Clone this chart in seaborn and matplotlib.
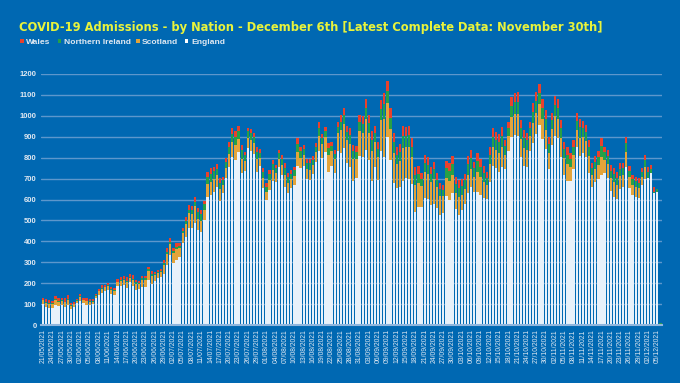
import matplotlib
matplotlib.use("Agg")
import matplotlib.pyplot as plt
from matplotlib.patches import Rectangle
import seaborn as sns
import pandas as pd
import numpy as np

# ---- data (daily admissions, 21/05/2021 .. 06/12/2021) ----
dates = pd.date_range("2021-05-21", periods=200, freq="D")
date_labels = [d.strftime("%d/%m/%Y") for d in dates]

england = [
    100, 88, 80, 80, 96, 90, 96, 85, 96, 75,
    85, 104, 116, 107, 96, 96, 99, 128, 143, 155,
    164, 167, 147, 143, 186, 186, 191, 179, 207, 186,
    167, 171, 183, 183, 215, 199, 212, 223, 228, 244,
    285, 335, 298, 311, 327, 394, 419, 462, 462, 489,
    454, 446, 502, 614, 622, 638, 662, 595, 630, 701,
    754, 805, 789, 829, 728, 736, 845, 834, 818, 733,
    760, 654, 598, 646, 690, 685, 754, 717, 662, 633,
    654, 670, 760, 749, 760, 697, 693, 720, 781, 834,
    797, 829, 733, 760, 728, 834, 821, 845, 776, 754,
    690, 701, 809, 802, 837, 789, 690, 754, 693, 834,
    805, 901, 789, 680, 654, 662, 690, 701, 697, 674,
    542, 563, 566, 609, 603, 574, 579, 558, 526, 537,
    617, 598, 630, 553, 526, 550, 579, 630, 658, 637,
    635, 622, 609, 603, 685, 760, 749, 733, 754, 744,
    834, 901, 908, 902, 802, 760, 757, 834, 869, 913,
    956, 890, 840, 744, 861, 902, 893, 805, 717, 690,
    690, 744, 850, 808, 821, 802, 728, 662, 685, 697,
    717, 728, 701, 642, 614, 603, 650, 662, 757, 654,
    622, 614, 609, 670, 697, 701, 725, 630, 637, 0,
]
scotland = [
    18, 20, 22, 20, 24, 23, 20, 24, 26, 16,
    15, 12, 19, 13, 18, 15, 13, 13, 18, 19,
    17, 19, 20, 20, 19, 25, 24, 27, 19, 30,
    31, 25, 33, 34, 42, 38, 28, 26, 26, 44,
    53, 51, 45, 52, 42, 46, 64, 73, 71, 79,
    54, 52, 47, 60, 64, 60, 54, 53, 38, 48,
    62, 68, 70, 62, 67, 47, 50, 51, 51, 60,
    40, 48, 40, 48, 50, 40, 42, 48, 56, 46,
    44, 44, 67, 51, 51, 48, 50, 44, 44, 69,
    70, 71, 82, 70, 65, 83, 110, 115, 106, 112,
    103, 93, 117, 118, 146, 129, 143, 119, 110, 145,
    182, 158, 148, 144, 118, 122, 157, 148, 153, 131,
    127, 118, 97, 122, 119, 108, 121, 100, 91, 79,
    85, 89, 89, 77, 84, 73, 72, 89, 90, 72,
    95, 85, 76, 65, 83, 90, 88, 90, 97, 71,
    69, 94, 100, 106, 89, 86, 80, 69, 96, 102,
    98, 95, 94, 79, 76, 97, 93, 88, 80, 80,
    67, 69, 81, 88, 78, 77, 79, 56, 62, 69,
    88, 63, 68, 62, 68, 65, 62, 56, 72, 53,
    48, 48, 46, 40, 60, 0, 0, 0, 0, 0,
]
northern_ireland = [
    3, 4, 4, 4, 4, 4, 4, 4, 5, 3,
    3, 2, 4, 2, 3, 3, 2, 2, 3, 4,
    3, 4, 4, 4, 3, 5, 4, 5, 4, 6,
    7, 6, 8, 8, 10, 9, 6, 6, 6, 10,
    12, 12, 10, 12, 10, 11, 15, 17, 16, 18,
    32, 31, 28, 36, 38, 36, 32, 32, 23, 29,
    37, 40, 42, 37, 40, 28, 30, 31, 31, 36,
    24, 28, 24, 28, 30, 24, 25, 29, 33, 28,
    26, 26, 40, 30, 30, 28, 30, 26, 26, 41,
    26, 26, 30, 26, 24, 30, 40, 42, 39, 41,
    38, 34, 43, 43, 54, 47, 52, 44, 40, 53,
    67, 58, 54, 53, 43, 45, 58, 54, 56, 48,
    47, 43, 36, 45, 44, 40, 44, 37, 33, 29,
    47, 50, 50, 43, 47, 41, 40, 50, 50, 40,
    53, 48, 42, 36, 46, 50, 49, 50, 54, 39,
    39, 53, 56, 59, 50, 48, 45, 39, 53, 57,
    55, 53, 53, 44, 42, 54, 52, 49, 45, 45,
    38, 39, 45, 49, 44, 43, 44, 31, 34, 38,
    49, 35, 38, 34, 38, 36, 34, 31, 40, 30,
    27, 27, 26, 22, 32, 30, 22, 6, 12, 10,
]
wales = [
    11, 12, 14, 12, 16, 15, 12, 15, 16, 10,
    9, 8, 12, 8, 11, 9, 9, 8, 11, 12,
    10, 12, 12, 12, 12, 15, 15, 17, 12, 19,
    10, 8, 10, 11, 12, 12, 9, 8, 8, 13,
    17, 16, 14, 16, 12, 14, 20, 22, 22, 24,
    21, 21, 18, 23, 25, 23, 22, 21, 15, 19,
    24, 27, 28, 24, 26, 18, 19, 20, 20, 24,
    16, 19, 15, 19, 19, 16, 16, 19, 22, 18,
    17, 17, 26, 20, 20, 19, 19, 18, 18, 28,
    20, 22, 24, 21, 20, 25, 33, 34, 32, 33,
    30, 28, 35, 36, 44, 39, 43, 35, 34, 44,
    54, 47, 45, 43, 35, 37, 47, 45, 46, 40,
    38, 36, 29, 37, 36, 32, 37, 30, 27, 24,
    37, 39, 39, 33, 36, 32, 31, 39, 39, 32,
    41, 37, 33, 29, 36, 40, 38, 40, 43, 31,
    30, 41, 44, 46, 39, 38, 35, 30, 42, 44,
    43, 41, 41, 34, 33, 42, 41, 38, 35, 35,
    29, 30, 36, 39, 34, 34, 34, 24, 27, 30,
    39, 27, 30, 27, 29, 29, 27, 24, 32, 23,
    20, 20, 20, 17, 24, 23, 18, 25, 0, 0,
]
y_ticks = list(range(0, 1201, 100))
series_names = ["Wales", "Northern Ireland", "Scotland", "England"]

# ---- styling ----
BG = "#0068b2"
COL_WALES = "#e8412c"
COL_NI = "#27a046"
COL_SCOT = "#e3a43a"
COL_ENG = "#e8f1fa"
TITLE_COL = "#e8f33c"
TEXT_COL = "#dfe8f2"
GRID_COL = "#5d97cc"

sns.set_theme(style="white")
plt.rcParams["font.family"] = ["Liberation Sans", "DejaVu Sans"]

df = pd.DataFrame({
    "date": date_labels,
    "England": england,
    "Scotland": scotland,
    "NI": northern_ireland,
    "Wales": wales,
})
df["lvl_eng"] = df["England"]
df["lvl_scot"] = df["lvl_eng"] + df["Scotland"]
df["lvl_ni"] = df["lvl_scot"] + df["NI"]
df["lvl_wales"] = df["lvl_ni"] + df["Wales"]

fig = plt.figure(figsize=(6.8, 3.83), dpi=100, facecolor=BG)
ax = fig.add_axes([0.060, 0.151, 0.914, 0.656])
ax.set_facecolor(BG)

for col, c in [("lvl_wales", COL_WALES), ("lvl_ni", COL_NI),
               ("lvl_scot", COL_SCOT), ("lvl_eng", COL_ENG)]:
    sns.barplot(data=df, x="date", y=col, color=c, saturation=1,
                width=0.72, errorbar=None, linewidth=0, ax=ax)

ax.set_xlim(-0.74, len(date_labels) - 0.4)
ax.set_ylim(0, 1200)
ax.set_yticks(y_ticks)
ax.set_yticklabels([str(v) for v in y_ticks], fontsize=5.5,
                   fontweight="bold", color=TEXT_COL)
ax.yaxis.grid(True, color=GRID_COL, linewidth=1.0)
ax.set_axisbelow(True)

xt = list(range(0, len(date_labels), 3))
ax.set_xticks(xt)
ax.set_xticklabels([date_labels[i] for i in xt], rotation=90,
                   fontsize=4.9, color=TEXT_COL)
ax.tick_params(axis="both", length=0, pad=3)
ax.set_xlabel("")
ax.set_ylabel("")
for s in ["top", "right", "left"]:
    ax.spines[s].set_visible(False)
ax.spines["bottom"].set_color("#8fb6de")
ax.spines["bottom"].set_linewidth(1.5)

fig.text(0.028, 0.920,
         "COVID-19 Admissions - by Nation - December 6th [Latest Complete Data: November 30th]",
         color=TITLE_COL, fontsize=8.3, fontweight="bold", ha="left",
         va="baseline", family="DejaVu Sans")

legend_x = [20 / 680, 57.5 / 680, 136 / 680, 185 / 680]
legend_cols = [COL_WALES, COL_NI, COL_SCOT, "#ffffff"]
for lx, name, c in zip(legend_x, series_names, legend_cols):
    fig.patches.append(Rectangle((lx, 0.8885), 3.5 / 680, 3.5 / 383,
                                 transform=fig.transFigure, facecolor=c,
                                 edgecolor="none"))
    fig.text(lx + 6 / 680, 0.885, name, color=TEXT_COL, fontsize=6.1,
             fontweight="bold", ha="left", va="baseline")

fig.savefig("out.png", dpi=100, facecolor=BG)
